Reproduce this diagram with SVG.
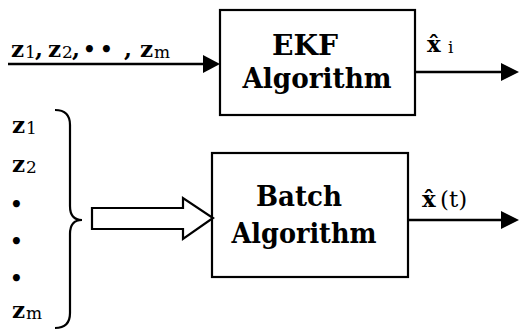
<svg xmlns="http://www.w3.org/2000/svg" width="519" height="330" viewBox="0 0 519 330">
<style>
.box{fill:#fff;stroke:#000;stroke-width:2.2}
.bt{font-family:'DejaVu Serif',serif;font-weight:bold;font-size:28px;fill:#000;text-anchor:middle}
.z{font-family:'DejaVu Serif',serif;font-weight:bold;font-size:23px;fill:#000}
.s{font-family:'DejaVu Serif',serif;font-size:17px;fill:#000}
.d{font-family:'DejaVu Serif',serif;font-weight:bold;font-size:20px;fill:#000}
.n{font-family:'DejaVu Serif',serif;font-size:23px;fill:#000}
.ln{stroke:#000;stroke-width:2.5;fill:none}
.hd{fill:#000}
</style>
<rect width="519" height="330" fill="#fff"/>
<g id="ekf">
<rect class="box" x="220" y="10" width="195" height="105"/>
<text class="bt" x="305" y="55" textLength="66" lengthAdjust="spacingAndGlyphs">EKF</text>
<text class="bt" x="317" y="88" textLength="149" lengthAdjust="spacingAndGlyphs">Algorithm</text>
</g>
<g id="batch">
<rect class="box" x="212" y="153" width="196" height="124"/>
<text class="bt" x="299" y="206" textLength="86" lengthAdjust="spacingAndGlyphs">Batch</text>
<text class="bt" x="304" y="243" textLength="145" lengthAdjust="spacingAndGlyphs">Algorithm</text>
</g>
<g id="input-label">
<text class="z" x="11" y="57">z</text><text class="s" x="25" y="58">1</text><text class="z" x="35" y="57">,</text>
<text class="z" x="48" y="57">z</text><text class="s" x="62" y="58">2</text><text class="z" x="72" y="57">,</text>
<text class="d" x="83" y="56">•</text><text class="d" x="100" y="56">•</text><text class="z" x="124" y="57">,</text>
<text class="z" x="140" y="57">z</text><text class="s" x="154" y="58">m</text>
</g>
<g id="batch-inputs">
<text class="z" x="12" y="133">z</text><text class="s" x="26" y="134">1</text>
<text class="z" x="12" y="172">z</text><text class="s" x="26" y="173">2</text>
<text class="d" x="10" y="211">•</text>
<text class="d" x="10" y="248">•</text>
<text class="d" x="10" y="285">•</text>
<text class="z" x="12" y="318">z</text><text class="s" x="26" y="319">m</text>
</g>
<g id="outputs">
<text class="z" x="427" y="52">x̂</text><text class="s" x="448" y="53">i</text>
<text class="z" x="422" y="207">x̂</text><text class="n" x="440" y="207">(t)</text>
</g>
<g id="connectors">
<path class="ln" d="M8,64 H206"/>
<polygon class="hd" points="203,55 220,64 203,73"/>
<path class="ln" d="M415,72 H505"/>
<polygon class="hd" points="501,63 519,72 501,81"/>
<path class="ln" d="M408,220 H505"/>
<polygon class="hd" points="501,211 519,220 501,229"/>
<path d="M55,110 Q70,110 70,125 L70,206 Q70,220 82,220 Q70,220 70,234 L70,313 Q70,328 55,328" fill="none" stroke="#000" stroke-width="2.2"/>
<polygon points="92,208 183,208 183,198 213,218 183,239 183,229 92,229" fill="#fff" stroke="#000" stroke-width="2.2"/>
</g>
</svg>
